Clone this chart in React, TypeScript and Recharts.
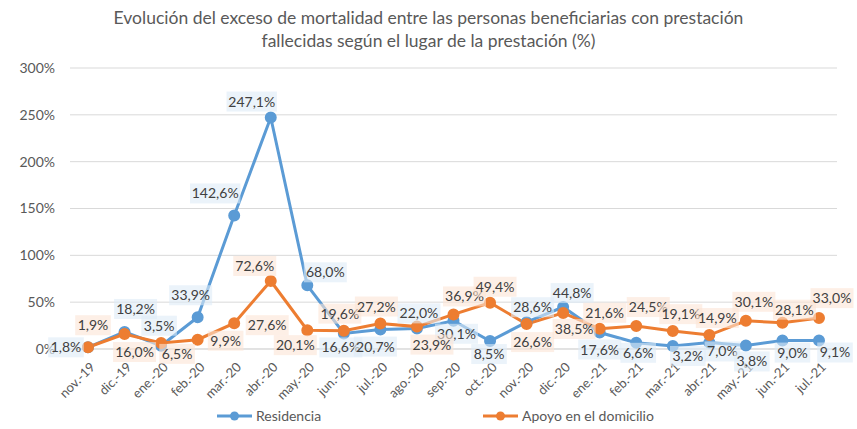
import React from 'react';
import { LineChart, Line, XAxis, YAxis, CartesianGrid, Legend, LabelList } from 'recharts';

const months = [
  'nov.-19', 'dic.-19', 'ene.-20', 'feb.-20', 'mar.-20', 'abr.-20', 'may.-20', 'jun.-20', 'jul.-20', 'ago.-20', 'sep.-20',
  'oct.-20', 'nov.-20', 'dic.-20', 'ene.-21', 'feb.-21', 'mar.-21', 'abr.-21', 'may.-21', 'jun.-21', 'jul.-21',
];
const residencia = [1.8, 18.2, 3.5, 33.9, 142.6, 247.1, 68.0, 16.6, 20.7, 22.0, 30.1, 8.5, 28.6, 44.8, 17.6, 6.6, 3.2, 7.0, 3.8, 9.0, 9.1];
const domicilio = [1.9, 16.0, 6.5, 9.9, 27.6, 72.6, 20.1, 19.6, 27.2, 23.9, 36.9, 49.4, 26.6, 38.5, 21.6, 24.5, 19.1, 14.9, 30.1, 28.1, 33.0];
const yTicks = [0, 50, 100, 150, 200, 250, 300];

// where each data label sits relative to its point (manually placed in the original)
const blueLabelPos = [
  [-22, 0], [11, -23], [-2, -20], [-7, -22], [-19, -22], [-19, -16], [18, -13], [-3, 14], [-5, 17], [2, -15], [3, 13],
  [-1, 13], [6, -15], [9, -14], [0, 17], [2, 10], [15, 10], [13, 9], [6, 16], [10, 12], [16, 12],
];
const orangeLabelPos = [
  [5, -22], [10, 18], [16, 11], [28, 1], [33, 2], [-16, -15], [-12, 15], [-4, -17], [-4, -17], [15, 18], [11, -18],
  [5, -16], [6, 18], [11, 16], [5, -16], [12, -19], [8, -17], [8, -17], [8, -19], [12, -13], [13, -20],
];

const data = months.map((m, i) => ({ name: m, residencia: residencia[i], domicilio: domicilio[i] }));

const FONT = 'Lato, "Open Sans", sans-serif';
const BLUE = '#5B9BD5';
const ORANGE = '#ED7D31';

const fmt = (v: number) => `${v.toFixed(1).replace('.', ',')}%`;

const makeLabel = (pos: number[][], boxFill: string) => (props: any) => {
  const { x, y, value, index } = props;
  const [dx, dy] = pos[index] || [0, -15];
  const text = fmt(value);
  const w = text.length * 7.4 + 6;
  const cx = x + dx;
  const cy = y + dy;
  return (
    <g>
      <rect x={cx - w / 2} y={cy - 10} width={w} height={20} fill={boxFill} fillOpacity={0.6} />
      <text x={cx} y={cy + 5} textAnchor="middle" fontSize={14} fontFamily={FONT} fill="#404040">
        {text}
      </text>
    </g>
  );
};

const MonthTick = (props: any) => {
  const { x, y, payload } = props;
  return (
    <g transform={`translate(${x + 5},${y + 8})`}>
      <text transform="rotate(-45)" textAnchor="end" fontSize={13} fontFamily={FONT} fill="#595959" dy={4}>
        {payload.value}
      </text>
    </g>
  );
};

const LegendContent = () => (
  <div style={{ position: 'relative', height: 24, fontFamily: FONT, fontSize: 14, color: '#595959' }}>
    {[
      { label: 'Residencia', color: BLUE, left: 207 },
      { label: 'Apoyo en el domicilio', color: ORANGE, left: 473 },
    ].map((it) => (
      <div key={it.label} style={{ position: 'absolute', left: it.left, top: 2, display: 'flex', alignItems: 'center' }}>
        <svg width={36} height={12}>
          <line x1={0} y1={6} x2={35} y2={6} stroke={it.color} strokeWidth={3} />
          <circle cx={17.5} cy={6} r={4.5} fill={it.color} />
        </svg>
        <span style={{ marginLeft: 3 }}>{it.label}</span>
      </div>
    ))}
  </div>
);

export default function App() {
  return (
    <div style={{ position: 'absolute', left: 0, top: 0, width: 857, height: 429, background: '#fff' }}>
      <div
        style={{
          position: 'absolute', left: 0, top: 6, width: 857, textAlign: 'center',
          fontFamily: FONT, fontSize: 17.5, lineHeight: '23px', color: '#595959',
        }}
      >
        Evolución del exceso de mortalidad entre las personas beneficiarias con prestación
        <br />
        fallecidas según el lugar de la prestación (%)
      </div>
      <LineChart width={857} height={429} data={data} margin={{ top: 68, right: 20, left: 10, bottom: 0 }}>
        <CartesianGrid vertical={false} stroke="#d9d9d9" />
        <XAxis
          dataKey="name"
          interval={0}
          height={56}
          padding={{ left: 18, right: 18 }}
          tick={<MonthTick />}
          tickLine={false}
          axisLine={{ stroke: '#d9d9d9' }}
        />
        <YAxis
          domain={[0, 300]}
          ticks={yTicks}
          width={60}
          tickFormatter={(v) => `${v}%`}
          tick={{ fontSize: 14, fontFamily: FONT, fill: '#595959', dx: -7 }}
          tickLine={false}
          axisLine={false}
        />
        <Legend verticalAlign="bottom" height={24} content={<LegendContent />} />
        <Line
          dataKey="residencia"
          name="Residencia"
          stroke={BLUE}
          strokeWidth={3}
          dot={{ r: 4.5, fill: BLUE, stroke: BLUE }}
          isAnimationActive={false}
        >
          <LabelList dataKey="residencia" content={makeLabel(blueLabelPos, '#DEEBF7')} />
        </Line>
        <Line
          dataKey="domicilio"
          name="Apoyo en el domicilio"
          stroke={ORANGE}
          strokeWidth={3}
          dot={{ r: 4.5, fill: ORANGE, stroke: ORANGE }}
          isAnimationActive={false}
        >
          <LabelList dataKey="domicilio" content={makeLabel(orangeLabelPos, '#FBE5D6')} />
        </Line>
      </LineChart>
    </div>
  );
}
